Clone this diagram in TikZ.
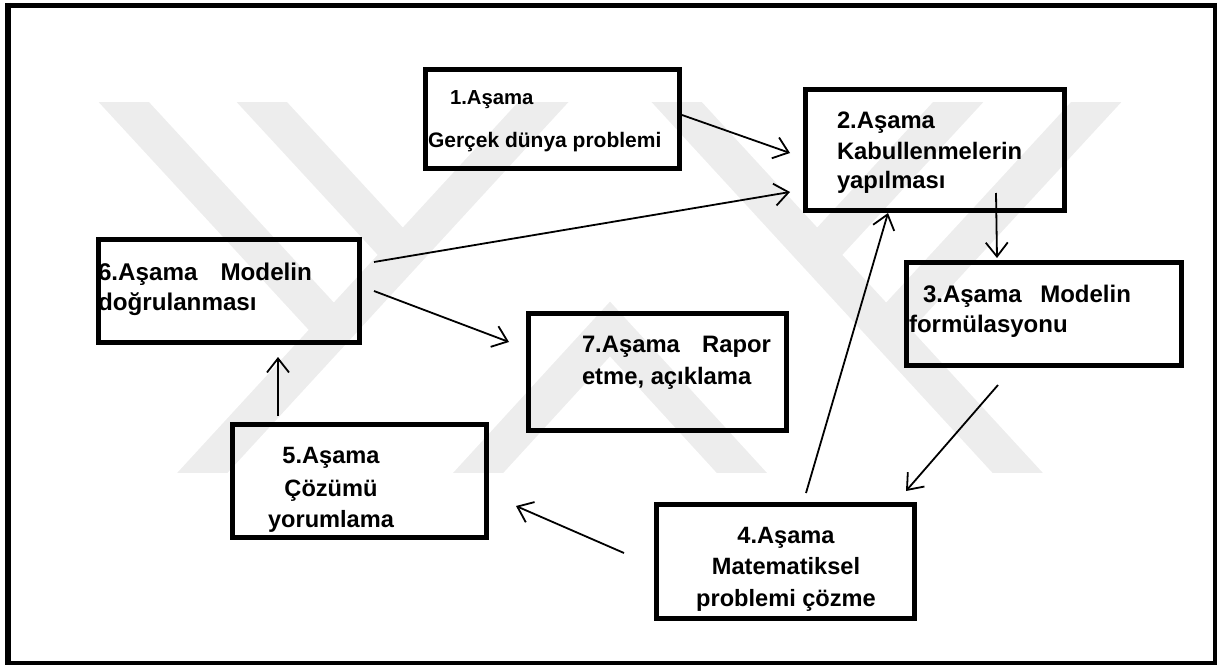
\documentclass[tikz,border=0pt]{standalone}
\usepackage{fontspec}
\setmainfont{Liberation Sans}
\usetikzlibrary{arrows.meta}
\begin{document}
\begin{tikzpicture}[x=1pt,y=-1pt,
  box/.style={draw, line width=5pt, inner sep=0pt, outer sep=0pt},
  lbl/.style={inner sep=0pt, outer sep=0pt, font=\bfseries\fontsize{#1}{#1}\selectfont},
  lbl/.default=23.8,
  arr/.style={line width=1.8pt, -{Straight Barb[length=14pt,width=22pt]}},
  wm/.style={line width=37pt, black!7, line join=miter},
  frame/.style={line width=#1, black}]
\useasboundingbox (0,0) rectangle (1218,666);

% faint watermark
\begin{scope}
  \clip (90,103) rectangle (1130,472);
  \draw[wm] (159,520) -- (582,60);
  \draw[wm] (1061,520) -- (638,60);
  \draw[wm] (85,60) -- (334,330);
  \draw[wm] (1135,60) -- (886,330);
  \draw[wm] (223,60) -- (403,255);
  \draw[wm] (997,60) -- (817,255);
  \draw[wm] (435,520) -- (610,329) -- (785,520);
\end{scope}

% outer frame
\draw[frame=6pt] (8,3) -- (8,665);
\draw[frame=5pt] (5,5.5) -- (1216.5,5.5);
\draw[frame=4pt] (1214.5,3) -- (1214.5,665);
\draw[frame=4pt] (5,663) -- (1216.5,663);

% boxes
\node[box, minimum width=254pt, minimum height=99pt]  (b1) at (552.5,119) {};
\node[box, minimum width=259pt, minimum height=121pt] (b2) at (935,150) {};
\node[box, minimum width=275pt, minimum height=103pt] (b3) at (1044,314) {};
\node[box, minimum width=258pt, minimum height=114pt] (b4) at (785.5,561.5) {};
\node[box, minimum width=254pt, minimum height=113pt] (b5) at (359.5,481) {};
\node[box, minimum width=261pt, minimum height=103pt] (b6) at (229,291) {};
\node[box, minimum width=258pt, minimum height=117pt] (b7) at (657.5,372) {};

% texts
\node[lbl=20.3, anchor=base west] (t1a) at (450,105) {1.Aşama};
\node[lbl=21, anchor=base west] (t1b) at (428,147) {Gerçek dünya problemi};

\node[lbl, anchor=base west] (t2a) at (837,129) {2.Aşama};
\node[lbl, anchor=base west] (t2b) at (837,160) {Kabullenmelerin};
\node[lbl, anchor=base west] (t2c) at (837,188) {yapılması};

\node[lbl=24, anchor=base west] (t3a) at (923,302) {\hbox to 208pt{3.Aşama\hfill Modelin}};
\node[lbl=24, anchor=base west] (t3b) at (909,332) {formülasyonu};

\node[lbl=23.6, anchor=base] (t4a) at (786,543) {4.Aşama};
\node[lbl=23.6, anchor=base] (t4b) at (786,574) {Matematiksel};
\node[lbl=23.6, anchor=base] (t4c) at (786,606) {problemi çözme};

\node[lbl=23.6, anchor=base] (t5a) at (331,463) {5.Aşama};
\node[lbl=23.6, anchor=base] (t5b) at (331,496) {Çözümü};
\node[lbl=23.6, anchor=base] (t5c) at (331,527) {yorumlama};

\node[lbl=24.2, anchor=base west] (t6a) at (98,280) {\hbox to 214pt{6.Aşama\hfill Modelin}};
\node[lbl=24.2, anchor=base west] (t6b) at (98,310) {doğrulanması};

\node[lbl, anchor=base west] (t7a) at (582,352) {\hbox to 189pt{7.Aşama\hfill Rapor}};
\node[lbl, anchor=base west] (t7b) at (582,384) {etme, açıklama};

% connector end points
\coordinate (a12s) at (682,115);  \coordinate (a12e) at (790,153);
\coordinate (a62s) at (374,262);  \coordinate (a62e) at (790,192);
\coordinate (a23s) at (996,193);  \coordinate (a23e) at (997,258);
\coordinate (a42s) at (806,493);  \coordinate (a42e) at (888,213);
\coordinate (a34s) at (998,385);  \coordinate (a34e) at (906,491);
\coordinate (a45s) at (624,553);  \coordinate (a45e) at (516,506);
\coordinate (a56s) at (278,416);  \coordinate (a56e) at (278,357);
\coordinate (a67s) at (374,291);  \coordinate (a67e) at (509,342);

\draw[arr] (a12s) -- (a12e);
\draw[arr] (a62s) -- (a62e);
\draw[arr] (a23s) -- (a23e);
\draw[arr] (a42s) -- (a42e);
\draw[arr] (a34s) -- (a34e);
\draw[arr] (a45s) -- (a45e);
\draw[arr] (a56s) -- (a56e);
\draw[arr] (a67s) -- (a67e);
\end{tikzpicture}
\end{document}
